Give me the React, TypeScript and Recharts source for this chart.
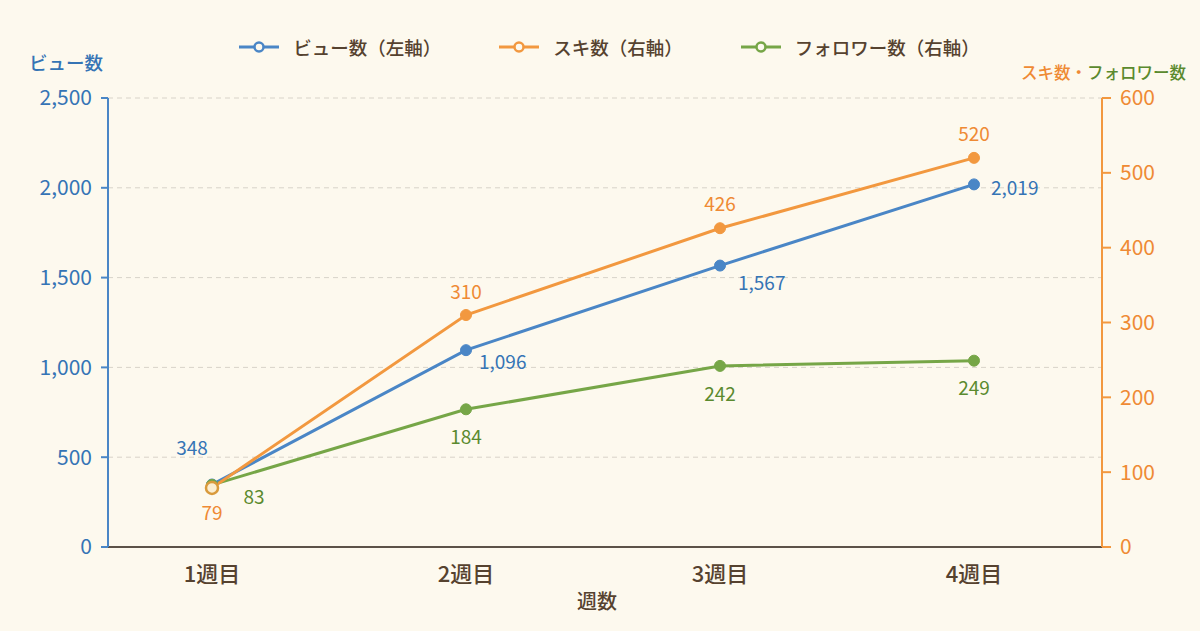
import React from 'react';
import {
  LineChart,
  Line,
  XAxis,
  YAxis,
  CartesianGrid,
  Legend,
  LabelList,
} from 'recharts';

const weeks = ['1週目', '2週目', '3週目', '4週目'];
const views = [348, 1096, 1567, 2019];
const likes = [79, 310, 426, 520];
const followers = [83, 184, 242, 249];
const leftTicks = [0, 500, 1000, 1500, 2000, 2500];
const rightTicks = [0, 100, 200, 300, 400, 500, 600];

const chartData = weeks.map((week, i) => ({
  week,
  views: views[i],
  likes: likes[i],
  followers: followers[i],
}));

const BLUE = '#4a86c6';
const ORANGE = '#f2983f';
const GREEN = '#76a647';
const BLUE_TEXT = '#3574b5';
const ORANGE_TEXT = '#ef8a34';
const GREEN_TEXT = '#5b8a2e';
const BROWN = '#56422f';
const BG = '#fdf9ee';
const FONT = "'Noto Sans CJK JP', 'Noto Sans', sans-serif";

const legendItems = [
  { name: 'ビュー数（左軸）', color: BLUE },
  { name: 'スキ数（右軸）', color: ORANGE },
  { name: 'フォロワー数（右軸）', color: GREEN },
];

// label placement relative to each point: [dx, dy, anchor]
const viewLabelPos: [number, number, string][] = [
  [-20, -38, 'middle'],
  [13, 10, 'start'],
  [18, 16, 'start'],
  [17, 2, 'start'],
];
const likeLabelPos: [number, number, string][] = [
  [0, 24, 'middle'],
  [0, -25, 'middle'],
  [0, -26, 'middle'],
  [0, -25, 'middle'],
];
const followerLabelPos: [number, number, string][] = [
  [42, 11, 'middle'],
  [0, 26, 'middle'],
  [0, 27, 'middle'],
  [0, 26, 'middle'],
];

const makeLabel = (pos: [number, number, string][], color: string) => (props: any) => {
  const { x, y, value, index } = props;
  const [dx, dy, anchor] = pos[index] || [0, -20, 'middle'];
  return (
    <text
      x={x + dx}
      y={y + dy}
      fill={color}
      fontSize={19}
      fontFamily={FONT}
      textAnchor={anchor as any}
      dominantBaseline="central"
    >
      {Number(value).toLocaleString('en-US')}
    </text>
  );
};

const LegendContent = () => (
  <div
    style={{
      display: 'flex',
      justifyContent: 'center',
      alignItems: 'flex-start',
      height: 68,
      paddingLeft: 19,
      gap: 58,
      fontFamily: FONT,
    }}
  >
    {legendItems.map((item) => (
      <div key={item.name} style={{ display: 'flex', alignItems: 'center', height: 34 }}>
        <svg width={40} height={14}>
          <line x1={0} y1={7} x2={40} y2={7} stroke={item.color} strokeWidth={3} />
          <circle cx={20} cy={7} r={4.5} fill={BG} stroke={item.color} strokeWidth={2.5} />
        </svg>
        <span
          style={{ marginLeft: 14, fontSize: 18.5, fontWeight: 500, color: BROWN, lineHeight: '34px' }}
        >
          {item.name}
        </span>
      </div>
    ))}
  </div>
);

const LikeDot = (props: any) => {
  const { cx, cy, index } = props;
  if (index === 0) {
    return <circle cx={cx} cy={cy} r={6} fill="#fbeed2" stroke="#d99a3c" strokeWidth={2.5} />;
  }
  return <circle cx={cx} cy={cy} r={5.5} fill={ORANGE} stroke={ORANGE} strokeWidth={1} />;
};

export default function App() {
  return (
    <div
      style={{
        position: 'absolute',
        top: 0,
        left: 0,
        width: 1200,
        height: 631,
        background: BG,
        fontFamily: FONT,
      }}
    >
      <LineChart
        width={1200}
        height={631}
        data={chartData}
        margin={{ top: 30, right: 0, bottom: 0, left: 0 }}
      >
        <CartesianGrid
          yAxisId="left"
          horizontal
          vertical={false}
          stroke="#d8d3c9"
          strokeDasharray="5 4"
        />
        <XAxis
          dataKey="week"
          height={84}
          padding={{ left: 104, right: 128 }}
          axisLine={{ stroke: '#5c5248', strokeWidth: 2 }}
          tickLine={false}
          tickSize={0}
          tickMargin={0}
          tick={(p: any) => (
            <text
              x={p.x}
              y={p.y + 25}
              fill={BROWN}
              fontSize={22}
              fontWeight={500}
              fontFamily={FONT}
              textAnchor="middle"
              dominantBaseline="central"
            >
              {p.payload.value}
            </text>
          )}
          label={{
            content: (p: any) => {
              const vb = p.viewBox || { x: 108, y: 547, width: 994 };
              return (
                <text
                  x={vb.x + vb.width / 2 - 8}
                  y={vb.y + 53}
                  fill={BROWN}
                  fontSize={20}
                  fontWeight={500}
                  fontFamily={FONT}
                  textAnchor="middle"
                  dominantBaseline="central"
                >
                  週数
                </text>
              );
            },
          }}
        />
        <YAxis
          yAxisId="left"
          orientation="left"
          width={108}
          domain={[0, 2500]}
          ticks={leftTicks}
          interval={0}
          tickFormatter={(v: number) => v.toLocaleString('en-US')}
          tick={{ fill: BLUE_TEXT, fontSize: 21, fontFamily: FONT }}
          tickSize={7}
          tickMargin={9}
          tickLine={{ stroke: BLUE, strokeWidth: 2 }}
          axisLine={{ stroke: BLUE, strokeWidth: 2 }}
          label={{
            content: (p: any) => {
              const vb = p.viewBox || { x: 0, y: 98 };
              return (
                <text
                  x={vb.x + 29}
                  y={vb.y - 36}
                  fill={BLUE_TEXT}
                  fontSize={18.5}
                  fontWeight={500}
                  fontFamily={FONT}
                  textAnchor="start"
                  dominantBaseline="central"
                >
                  ビュー数
                </text>
              );
            },
          }}
        />
        <YAxis
          yAxisId="right"
          orientation="right"
          width={98}
          domain={[0, 600]}
          ticks={rightTicks}
          interval={0}
          tick={{ fill: ORANGE_TEXT, fontSize: 21, fontFamily: FONT }}
          tickSize={9}
          tickMargin={9}
          tickLine={{ stroke: ORANGE, strokeWidth: 2 }}
          axisLine={{ stroke: ORANGE, strokeWidth: 2 }}
          label={{
            content: (p: any) => {
              const vb = p.viewBox || { x: 1102, y: 98 };
              const endX = vb.x + 84;
              const y = vb.y - 26;
              return (
                <g>
                  <text
                    x={endX - 99}
                    y={y}
                    fill={ORANGE_TEXT}
                    fontSize={16.5}
                    fontWeight={500}
                    fontFamily={FONT}
                    textAnchor="end"
                    dominantBaseline="central"
                  >
                    スキ数・
                  </text>
                  <text
                    x={endX}
                    y={y}
                    fill={GREEN_TEXT}
                    fontSize={16.5}
                    fontWeight={500}
                    fontFamily={FONT}
                    textAnchor="end"
                    dominantBaseline="central"
                  >
                    フォロワー数
                  </text>
                </g>
              );
            },
          }}
        />
        <Legend
          verticalAlign="top"
          align="center"
          content={<LegendContent />}
          wrapperStyle={{ top: 30, left: 0, width: 1200 }}
        />
        <Line
          yAxisId="left"
          dataKey="views"
          name="ビュー数（左軸）"
          stroke={BLUE}
          strokeWidth={3}
          dot={{ r: 5.5, fill: BLUE, stroke: BLUE, strokeWidth: 1 }}
          isAnimationActive={false}
        >
          <LabelList dataKey="views" content={makeLabel(viewLabelPos, BLUE_TEXT)} />
        </Line>
        <Line
          yAxisId="right"
          dataKey="followers"
          name="フォロワー数（右軸）"
          stroke={GREEN}
          strokeWidth={3}
          dot={{ r: 5.5, fill: GREEN, stroke: GREEN, strokeWidth: 1 }}
          isAnimationActive={false}
        >
          <LabelList dataKey="followers" content={makeLabel(followerLabelPos, GREEN_TEXT)} />
        </Line>
        <Line
          yAxisId="right"
          dataKey="likes"
          name="スキ数（右軸）"
          stroke={ORANGE}
          strokeWidth={3}
          dot={<LikeDot />}
          isAnimationActive={false}
        >
          <LabelList dataKey="likes" content={makeLabel(likeLabelPos, ORANGE_TEXT)} />
        </Line>
      </LineChart>
    </div>
  );
}
